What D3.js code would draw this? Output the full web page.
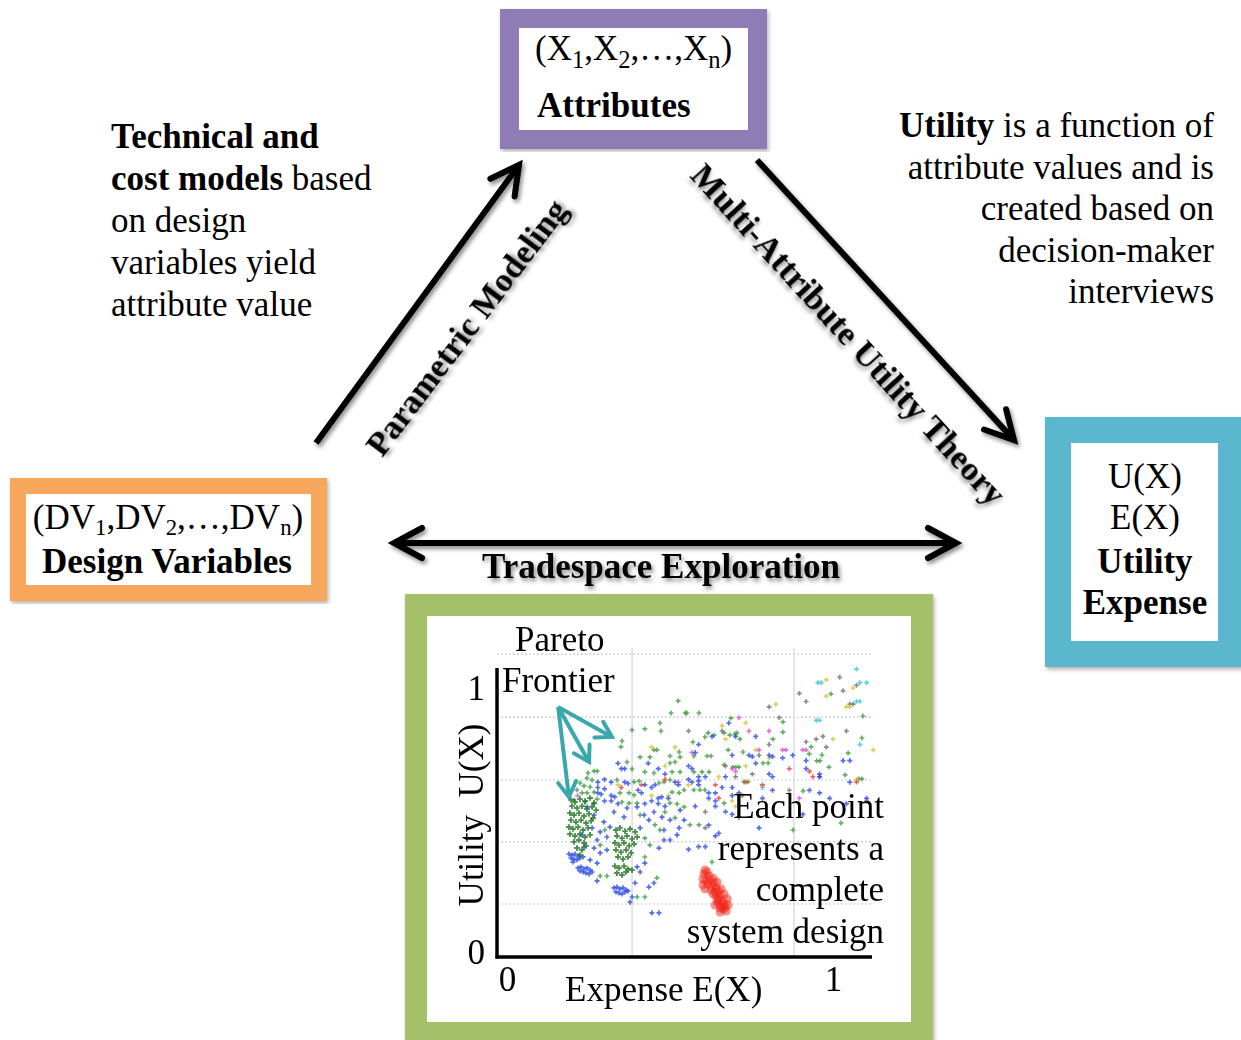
<!DOCTYPE html>
<html><head><meta charset="utf-8">
<script src="https://cdn.jsdelivr.net/npm/d3@7/dist/d3.min.js"></script>
<style>body{margin:0;background:#fff;overflow:hidden} text{white-space:pre}</style>
</head><body>
<svg id="c" width="1241" height="1040"></svg>
<script>
// ---------- data ----------
const xTicks = [0, 1];
const yTicks = [0, 1];
const gridX = [0.402, 0.884];
const gridY = [0.197, 0.428, 0.658, 0.892, 1.126];
const paretoOrigin = [0.182, 0.929];
const paretoTips = [[0.342, 0.818], [0.274, 0.725], [0.214, 0.595]];

const greenDensePts = [
 [0.220,0.584],[0.232,0.576],[0.247,0.587],[0.262,0.580],[0.277,0.591],[0.289,0.572],[0.223,0.561],[0.238,0.554],
 [0.253,0.561],[0.268,0.550],[0.283,0.558],[0.295,0.546],[0.217,0.535],[0.229,0.528],[0.244,0.535],[0.259,0.524],
 [0.274,0.532],[0.286,0.517],[0.220,0.509],[0.235,0.502],[0.250,0.509],[0.265,0.498],[0.280,0.506],[0.214,0.483],
 [0.226,0.476],[0.241,0.483],[0.256,0.472],[0.271,0.480],[0.217,0.457],[0.232,0.450],[0.247,0.457],[0.262,0.446],
 [0.277,0.454],[0.229,0.428],[0.244,0.435],[0.259,0.424],[0.238,0.405],[0.253,0.398],[0.265,0.413],[0.247,0.379],
 [0.354,0.472],[0.366,0.480],[0.381,0.468],[0.396,0.476],[0.411,0.465],[0.357,0.450],[0.372,0.442],[0.387,0.450],
 [0.402,0.439],[0.417,0.446],[0.351,0.424],[0.363,0.416],[0.378,0.424],[0.393,0.413],[0.408,0.420],[0.354,0.398],
 [0.369,0.390],[0.384,0.398],[0.399,0.387],[0.360,0.372],[0.375,0.364],[0.390,0.372],[0.351,0.338],[0.363,0.331],
 [0.378,0.338],[0.390,0.327],[0.357,0.312],[0.372,0.305],[0.384,0.316],[0.402,0.323]
];
const greenPts = [
 [0.539,0.952],[0.518,0.907],[0.560,0.907],[0.485,0.870],[0.402,0.844],[0.440,0.848],[0.488,0.840],[0.372,0.803],
 [0.369,0.781],[0.467,0.770],[0.476,0.770],[0.542,0.762],[0.426,0.743],[0.455,0.743],[0.515,0.747],[0.545,0.743],
 [0.387,0.725],[0.515,0.721],[0.530,0.725],[0.289,0.691],[0.298,0.691],[0.271,0.684],[0.402,0.699],[0.440,0.688],
 [0.467,0.684],[0.521,0.688],[0.545,0.688],[0.268,0.665],[0.283,0.658],[0.357,0.658],[0.408,0.651],[0.423,0.654],
 [0.482,0.647],[0.497,0.651],[0.515,0.658],[0.247,0.647],[0.259,0.636],[0.277,0.632],[0.238,0.621],[0.253,0.610],
 [0.268,0.610],[0.289,0.613],[0.366,0.610],[0.393,0.610],[0.408,0.602],[0.521,0.613],[0.542,0.610],[0.557,0.621],
 [0.229,0.584],[0.262,0.576],[0.289,0.572],[0.298,0.587],[0.372,0.576],[0.393,0.572],[0.417,0.572],[0.515,0.572],
 [0.536,0.569],[0.557,0.558],
 [0.565,0.907],[0.601,0.907],[0.696,0.888],[0.851,0.874],[0.628,0.833],[0.646,0.825],[0.676,0.833],[0.693,0.825],
 [0.708,0.829],[0.714,0.833],[0.851,0.836],[0.619,0.818],[0.723,0.810],[0.583,0.799],[0.821,0.810],[1.086,0.814],
 [0.935,0.781],[0.688,0.770],[0.732,0.762],[0.586,0.747],[0.625,0.747],[0.637,0.747],[0.929,0.755],[0.967,0.751],
 [1.045,0.758],[0.952,0.729],[0.961,0.729],[0.792,0.721],[0.807,0.721],[0.676,0.714],[0.702,0.706],[0.711,0.706],
 [0.720,0.706],[0.988,0.706],[0.586,0.688],[0.610,0.688],[0.631,0.688],[1.036,0.677],[1.077,0.662],[1.086,0.662],
 [0.735,0.651],[0.747,0.651],[0.911,0.617],[0.586,0.621],[0.604,0.621],[0.619,0.621],[0.676,0.572],[1.089,0.896],
 [0.994,0.978],
 [0.574,0.491],[0.601,0.491],[0.640,0.353],[0.881,0.472],[1.024,0.498],
 [0.307,0.301],[0.327,0.301],[0.417,0.223],[0.440,0.223],[0.476,0.294],[0.440,0.372],[0.455,0.416],[0.485,0.472],
 [0.426,0.528],[0.500,0.539],[0.530,0.517],[0.470,0.491],[0.321,0.472],[0.307,0.416],[0.440,0.442]
];
const bluePts = [
 [0.214,0.383],[0.223,0.379],[0.232,0.383],[0.241,0.375],[0.220,0.368],[0.229,0.364],[0.238,0.361],[0.247,0.368],
 [0.256,0.372],[0.226,0.353],[0.241,0.331],[0.250,0.335],[0.259,0.327],[0.268,0.331],[0.277,0.323],[0.256,0.316],
 [0.265,0.312],[0.283,0.316],[0.247,0.320],[0.274,0.309],[0.348,0.257],[0.357,0.260],[0.366,0.253],[0.375,0.257],
 [0.384,0.249],[0.354,0.242],[0.363,0.238],[0.372,0.234],[0.381,0.242],[0.390,0.245],
 [0.298,0.283],[0.402,0.223],[0.411,0.275],[0.426,0.316],[0.440,0.349],[0.417,0.335],[0.452,0.260],[0.467,0.275],
 [0.482,0.405],[0.497,0.435],[0.515,0.435],[0.536,0.454],[0.327,0.398],[0.327,0.446],[0.298,0.435],[0.307,0.465],
 [0.336,0.483],[0.318,0.502],[0.348,0.539],[0.378,0.520],[0.387,0.554],[0.417,0.558],[0.438,0.528],[0.452,0.509],
 [0.467,0.539],[0.491,0.520],[0.515,0.509],[0.545,0.546],[0.557,0.509],[0.542,0.480],[0.497,0.472],[0.426,0.480],
 [0.268,0.558],[0.289,0.528],[0.283,0.480],[0.253,0.454],[0.259,0.409],[0.289,0.405],[0.307,0.387],[0.277,0.361],
 [0.298,0.349],[0.396,0.204],[0.461,0.164],[0.482,0.164],
 [0.69,0.87],[0.64,0.82],[0.71,0.82],[0.77,0.82],[0.60,0.79],[0.59,0.76],[0.70,0.75],[0.75,0.75],[0.76,0.745],
 [0.81,0.75],[0.82,0.745],[0.85,0.74],[0.88,0.75],[1.03,0.73],[1.05,0.73],[0.92,0.73],[0.77,0.72],[0.57,0.71],
 [0.58,0.70],[0.92,0.70],[0.96,0.68],[0.96,0.67],[0.60,0.67],[0.62,0.67],[0.68,0.67],[0.81,0.68],[0.82,0.67],
 [1.05,0.65],[0.57,0.66],[0.58,0.65],[0.60,0.655],[0.60,0.64],[0.67,0.63],[0.70,0.63],[0.82,0.62],[0.93,0.62],
 [0.96,0.61],[0.99,0.59],[0.79,0.59],[0.63,0.61],[0.65,0.61],[0.70,0.60],[0.72,0.61],[0.63,0.59],[0.65,0.58],
 [1.04,0.57],[1.10,0.59],
 [0.59,0.56],[0.63,0.49],[0.66,0.46],[0.65,0.45],[0.62,0.41],[0.60,0.41],[0.57,0.40],[0.78,0.48],[0.91,0.53],
 [0.68,0.54],[0.70,0.53],[0.65,0.56],[0.72,0.52],
 [0.45,0.72],[0.36,0.72],[0.37,0.70],[0.38,0.70],[0.48,0.70],[0.50,0.68],[0.30,0.65],[0.32,0.66],[0.34,0.65],
 [0.38,0.65],[0.39,0.645],[0.44,0.64],[0.46,0.63],[0.47,0.64],[0.53,0.65],[0.54,0.64],[0.30,0.63],[0.32,0.625],
 [0.30,0.61],[0.31,0.605],[0.34,0.60],[0.35,0.595],[0.42,0.62],[0.43,0.61],[0.48,0.59],[0.49,0.595],[0.51,0.59],
 [0.32,0.58],[0.34,0.58],[0.36,0.57],[0.44,0.57],[0.46,0.58],[0.48,0.57],[0.50,0.56]
];
const greyPts = [
 [1.02,1.04],[1.07,1.01],[1.03,0.99],[0.90,0.98],[0.92,0.95],[1.05,0.94],[1.06,0.94],[0.81,0.93],[0.84,0.89],
 [0.57,0.84],[0.67,0.84],[1.04,0.84],[0.97,0.82],[0.95,0.81],[0.92,0.80],[0.81,0.79],[0.98,0.78],[0.78,0.75],
 [0.68,0.71],[0.76,0.68],[0.71,0.67],[0.87,0.62],[0.73,0.60],[1.10,0.58],[0.62,0.48],[0.62,0.54]
];
const yellowPts = [
 [0.98,1.03],[1.06,1.00],[0.98,0.97],[1.04,0.93],[1.05,0.93],[0.83,0.94],[0.74,0.87],[0.67,0.86],[0.68,0.81],
 [1.00,0.81],[0.77,0.77],[0.81,0.74],[0.74,0.71],[0.66,0.67],[0.57,0.64],[0.70,0.58],[1.07,0.66],[0.46,0.78],
 [0.53,0.78],[0.50,0.71],[0.36,0.64],[0.46,0.60],[0.51,0.60],[0.71,0.56],[1.12,0.77]
];
const magentaPts = [
 [0.72,0.89],[0.75,0.84],[0.81,0.84],[0.58,0.76],[0.78,0.77],[0.85,0.77],[0.86,0.77],[0.91,0.77],[0.92,0.77],
 [0.70,0.70],[0.71,0.69],[0.90,0.59],[0.24,0.60],[0.54,0.65]
];
const cyanPts = [
 [1.07,1.07],[0.955,1.02],[0.965,1.02],[1.08,1.02],[1.10,1.02],[1.07,0.95],[1.08,0.95],[0.95,0.88],[0.96,0.88],
 [0.79,0.63],[1.08,0.79]
];
const redPts = [
 [0.87,0.70],[0.93,0.69],[0.94,0.67],[0.96,0.67],[1.07,0.65],[0.65,0.64],[0.74,0.65],[0.79,0.64],[0.66,0.59],
 [0.37,0.63],[0.43,0.64],[0.50,0.66]
];
const redClusterPts = [
 [0.616,0.309],[0.625,0.316],[0.631,0.301],[0.613,0.290],[0.622,0.283],[0.634,0.286],[0.628,0.271],[0.640,0.264],
 [0.646,0.275],[0.652,0.257],[0.637,0.249],[0.649,0.242],[0.658,0.245],[0.664,0.230],[0.652,0.227],[0.643,0.234],
 [0.661,0.216],[0.670,0.208],[0.658,0.201],[0.667,0.190],[0.676,0.197],[0.664,0.182],[0.673,0.178],[0.655,0.212],
 [0.679,0.186],[0.613,0.268],[0.619,0.253],[0.643,0.294],[0.655,0.279],[0.667,0.253],[0.676,0.234],[0.685,0.216],
 [0.688,0.193],[0.682,0.171],[0.664,0.167],[0.649,0.193],[0.619,0.323]
];

// ---------- drawing ----------
const SERIF = '"Liberation Serif","Times New Roman",Times,serif';
const FS = 35;
const svg = d3.select("#c");
const defs = svg.append("defs");
const f1 = defs.append("filter").attr("id","sh").attr("x","-20%").attr("y","-20%").attr("width","140%").attr("height","140%");
f1.append("feDropShadow").attr("dx",2).attr("dy",3).attr("stdDeviation",2).attr("flood-color","#000").attr("flood-opacity",0.45);
const f2 = defs.append("filter").attr("id","bsh").attr("x","-10%").attr("y","-10%").attr("width","120%").attr("height","120%");
f2.append("feDropShadow").attr("dx",1.5).attr("dy",2.5).attr("stdDeviation",2).attr("flood-color","#000").attr("flood-opacity",0.3);
const f3 = defs.append("filter").attr("id","blur");
f3.append("feGaussianBlur").attr("stdDeviation",0.45);

function marker(id, path, color, sw, vb, w) {
  defs.append("marker").attr("id",id).attr("viewBox",vb).attr("refX",0).attr("refY",0)
    .attr("markerWidth",w).attr("markerHeight",w).attr("markerUnits","userSpaceOnUse")
    .attr("orient","auto-start-reverse")
    .append("path").attr("d",path).attr("fill","none").attr("stroke",color)
    .attr("stroke-width",sw).attr("stroke-linejoin","miter").attr("stroke-linecap","round");
}
marker("ah","M-28,-15L0,0L-28,15","#000",6,"-36 -23 46 46",46);
marker("aht","M-15,-9L0,0L-15,9","#3aa7ad",4,"-20 -13 26 26",26);

function rich(parent, x, y, parts, o = {}) {
  const size = o.size || FS;
  const subDy = o.subDy || 8;
  const subScale = o.subScale || 0.7;
  const t = parent.append("text").attr("x",x).attr("y",y).attr("font-size",size)
    .attr("text-anchor",o.anchor||"start").attr("font-weight",o.weight||"normal")
    .attr("font-family",SERIF).attr("fill","#000");
  let shift = 0;
  parts.forEach(p => {
    const s = typeof p === "string" ? {t:p} : p;
    const ts = t.append("tspan").text(s.t);
    const target = s.sub ? subDy : 0;
    if (target !== shift) { ts.attr("dy", target - shift); shift = target; }
    if (s.sub) ts.attr("font-size", size * subScale);
    if (s.b) ts.attr("font-weight","bold");
  });
  return t;
}

// boxes
const boxes = [
  {x:509.5, y:18.5, w:248, h:121, sw:19, c:"#8e7cb4"},
  {x:18, y:486, w:301, h:107, sw:16, c:"#f6a75b"},
  {x:1058, y:430, w:173, h:224, sw:26, c:"#5ab7cd"},
  {x:416, y:605, w:506, h:428, sw:22, c:"#a4c16a"}
];
svg.append("g").selectAll("rect").data(boxes).join("rect")
  .attr("x",d=>d.x).attr("y",d=>d.y).attr("width",d=>d.w).attr("height",d=>d.h)
  .attr("fill","#fff").attr("stroke",d=>d.c).attr("stroke-width",d=>d.sw)
  .attr("filter","url(#bsh)");

// big arrows
const arrows = svg.append("g").attr("filter","url(#sh)");
arrows.append("line").attr("x1",316).attr("y1",443).attr("x2",519).attr("y2",165)
  .attr("stroke","#000").attr("stroke-width",6).attr("marker-end","url(#ah)");
arrows.append("line").attr("x1",757).attr("y1",160).attr("x2",1014).attr("y2",440)
  .attr("stroke","#000").attr("stroke-width",6).attr("marker-end","url(#ah)");
arrows.append("line").attr("x1",394).attr("y1",543).attr("x2",956).attr("y2",543)
  .attr("stroke","#000").attr("stroke-width",6).attr("marker-start","url(#ah)").attr("marker-end","url(#ah)");

// arrow labels
svg.append("text").attr("transform","translate(466,327) rotate(-53)").attr("text-anchor","middle")
  .attr("dy","0.35em").attr("font-family",SERIF).attr("font-weight","bold").attr("font-size",34)
  .attr("filter","url(#sh)").text("Parametric Modeling");
svg.append("text").attr("transform","translate(849,334) rotate(47.6)").attr("text-anchor","middle")
  .attr("dy","0.35em").attr("font-family",SERIF).attr("font-weight","bold").attr("font-size",34.4)
  .attr("filter","url(#sh)").text("Multi-Attribute Utility Theory");
rich(svg, 661, 578, ["Tradespace Exploration"], {anchor:"middle", weight:"bold"}).attr("filter","url(#sh)");

// box texts
rich(svg, 535, 60, ["(X",{t:"1",sub:true},",X",{t:"2",sub:true},",…,X",{t:"n",sub:true},")"]);
rich(svg, 537, 117, ["Attributes"], {weight:"bold"});
rich(svg, 168, 529, ["(DV",{t:"1",sub:true},",DV",{t:"2",sub:true},",…,DV",{t:"n",sub:true},")"], {anchor:"middle", subDy:6, subScale:0.65});
rich(svg, 167, 573, ["Design Variables"], {anchor:"middle", weight:"bold"});
rich(svg, 1145, 488, ["U(X)"], {anchor:"middle"});
rich(svg, 1145, 529, ["E(X)"], {anchor:"middle"});
rich(svg, 1145, 573, ["Utility"], {anchor:"middle", weight:"bold"});
rich(svg, 1145, 614, ["Expense"], {anchor:"middle", weight:"bold"});

// side notes
const leftNote = [[{t:"Technical and",b:true}],[{t:"cost models",b:true}," based"],["on design"],["variables yield"],["attribute value"]];
leftNote.forEach((l,i)=>rich(svg, 111, 148 + i*42, l));
const rightNote = [[{t:"Utility",b:true}," is a function of"],["attribute values and is"],["created based on"],["decision-maker"],["interviews"]];
rightNote.forEach((l,i)=>rich(svg, 1214, 137 + i*41.6, l, {anchor:"end"}));

// ---------- embedded tradespace scatter ----------
const sx = d3.scaleLinear().domain([0,1]).range([497,833]);
const sy = d3.scaleLinear().domain([0,1]).range([957,688]);
const sc = svg.append("g");
sc.selectAll(".gh").data(gridY).join("line").attr("class","gh")
  .attr("x1",sx(0)).attr("x2",sx(1.116)).attr("y1",d=>sy(d)).attr("y2",d=>sy(d))
  .attr("stroke","#c9c9c9").attr("stroke-width",1.2).attr("stroke-dasharray","2,2");
sc.selectAll(".gv").data(gridX).join("line").attr("class","gv")
  .attr("y1",sy(0)).attr("y2",sy(1.149)).attr("x1",d=>sx(d)).attr("x2",d=>sx(d))
  .attr("stroke","#d4d4d4").attr("stroke-width",1.2);

const pts = sc.append("g").attr("filter","url(#blur)");
const series = [
  {d:greenPts, c:"#3c9c3c", s:13},
  {d:greyPts, c:"#6e6e6e", s:13},
  {d:yellowPts, c:"#d6c232", s:13},
  {d:magentaPts, c:"#d94fd9", s:13},
  {d:cyanPts, c:"#33c7d9", s:13},
  {d:redPts, c:"#ee3a2e", s:13},
  {d:bluePts, c:"#2b48ea", s:14},
  {d:greenDensePts, c:"#1f741f", s:18}
];
series.forEach(se => {
  pts.append("g").selectAll("path").data(se.d).join("path")
    .attr("transform",d=>`translate(${sx(d[0])},${sy(d[1])})`)
    .attr("d", d3.symbol(d3.symbolCross, se.s)())
    .attr("fill", se.c).attr("opacity",0.8);
});
pts.append("g").selectAll("circle").data(redClusterPts).join("circle")
  .attr("cx",d=>sx(d[0])).attr("cy",d=>sy(d[1])).attr("r",4.5)
  .attr("fill","#f2261a").attr("opacity",0.5);

// axes lines
sc.append("line").attr("x1",sx(0)).attr("x2",sx(0)).attr("y1",sy(1.074)).attr("y2",sy(0)+1.5)
  .attr("stroke","#000").attr("stroke-width",3.5);
sc.append("line").attr("x1",sx(0)-1.5).attr("x2",sx(1.116)).attr("y1",sy(0)).attr("y2",sy(0))
  .attr("stroke","#000").attr("stroke-width",3.5);

const ayG = sc.append("g").attr("transform",`translate(${sx(0)},0)`)
  .call(d3.axisLeft(sy).tickValues(yTicks).tickSize(0).tickPadding(12).tickFormat(d3.format("d")));
ayG.select(".domain").remove();
ayG.selectAll("text").attr("font-family",SERIF).attr("font-size",FS).attr("fill","#000")
  .attr("dy", d => d === 0 ? "0.18em" : "0.32em");
const axG = sc.append("g").attr("transform",`translate(0,${sy(0)})`)
  .call(d3.axisBottom(sx).tickValues(xTicks).tickSize(0).tickPadding(9).tickFormat(d3.format("d")));
axG.select(".domain").remove();
axG.selectAll("text").attr("font-family",SERIF).attr("font-size",FS).attr("fill","#000")
  .attr("dx", d => d === 0 ? 10 : 0);

// pareto annotation arrows
sc.append("g").selectAll("line").data(paretoTips).join("line")
  .attr("x1",sx(paretoOrigin[0])).attr("y1",sy(paretoOrigin[1]))
  .attr("x2",d=>sx(d[0])).attr("y2",d=>sy(d[1]))
  .attr("stroke","#3aa7ad").attr("stroke-width",4).attr("marker-end","url(#aht)");

// scatter texts
rich(sc, 515, 651, ["Pareto"]);
rich(sc, 502, 692, ["Frontier"]);
["Each point","represents a","complete","system design"].forEach((l,i)=>rich(sc, 884, 818 + i*41.5, [l], {anchor:"end"}));
rich(sc, 565, 1001, ["Expense E(X)"]);
sc.append("text").attr("transform","translate(483,815) rotate(-90)").attr("text-anchor","middle")
  .attr("font-family",SERIF).attr("font-size",FS).attr("fill","#000").text("Utility  U(X)");
</script>
</body></html>
